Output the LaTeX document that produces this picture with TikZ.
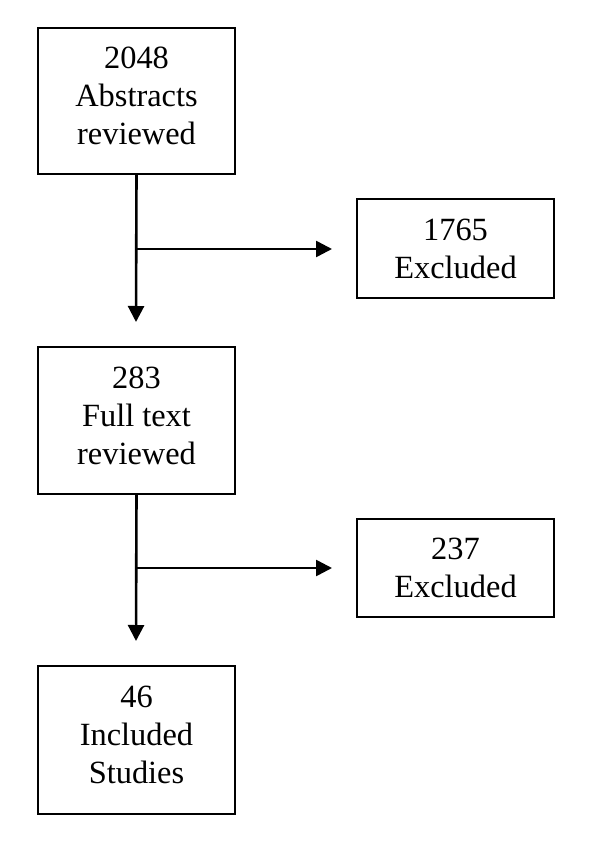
\documentclass[tikz,border=0pt]{standalone}
\usepackage{fontspec}
\setmainfont{Liberation Serif}
\usetikzlibrary{arrows.meta}

\begin{document}
\begin{tikzpicture}[x=0.5pt,y=-0.5pt,
    stagebox/.style={draw, line width=1pt, align=center, inner sep=0pt, outer sep=0pt,
      minimum width=98.5pt, font=\fontsize{16.2}{19}\selectfont},
    tallbox/.style={stagebox, text depth=5pt},
    flowarrow/.style={line width=1.3pt, -{Triangle[width=8pt,length=8pt]}}]
    \useasboundingbox (0,0) rectangle (600,850);
    % main column
    \node [tallbox, minimum height=73pt] (abstracts) at (136.5,101) {2048\\Abstracts\\reviewed};
    \node [tallbox, minimum height=73.5pt] (fulltext) at (136.5,420.5) {283\\Full text\\reviewed};
    \node [tallbox, minimum height=74pt] (included) at (136.5,740) {46\\Included\\Studies};
    % excluded boxes
    \node [stagebox, minimum height=49.5pt] (excl1) at (455.5,248.5) {1765\\Excluded};
    \node [stagebox, minimum height=49pt] (excl2) at (455.5,568) {237\\Excluded};
    % arrow ends
    \coordinate (down1) at (136,322);
    \coordinate (split1) at (136,249);
    \coordinate (side1) at (332,249);
    \coordinate (down2) at (136,641);
    \coordinate (split2) at (136,568);
    \coordinate (side2) at (332,568);
    \draw [flowarrow] (abstracts.south) -- (down1);
    \draw [flowarrow] (split1) -- (side1);
    \draw [flowarrow] (fulltext.south) -- (down2);
    \draw [flowarrow] (split2) -- (side2);
\end{tikzpicture}
\end{document}
